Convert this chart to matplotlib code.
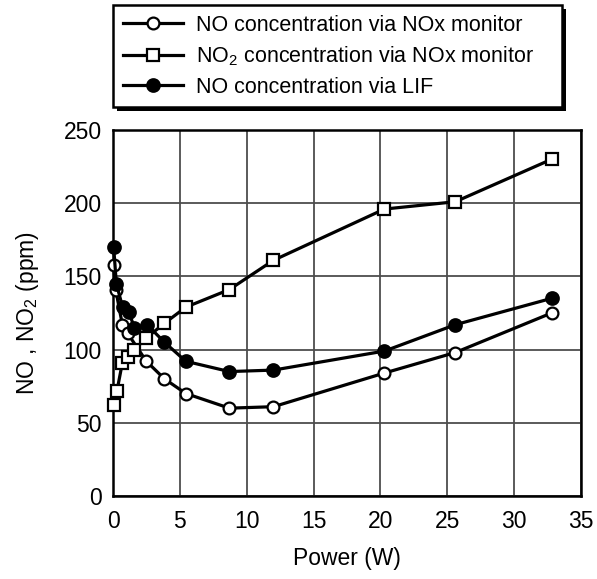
import matplotlib

matplotlib.use("Agg", force=True)
import matplotlib.pyplot as plt
from matplotlib.patches import Rectangle

plt.rcParams["font.family"] = ["Liberation Sans", "DejaVu Sans"]
plt.rcParams["mathtext.fontset"] = "custom"
plt.rcParams["mathtext.rm"] = "Liberation Sans"

# values
x_no_mon = [0.05, 0.2, 0.7, 1.1, 2.5, 3.85, 5.45, 8.7, 12.0, 20.3, 25.6, 32.8]
no_mon = [158, 141, 117, 111, 92, 80, 70, 60, 61, 84, 98, 125]

x_no2 = [0.1, 0.3, 0.7, 1.1, 1.6, 2.5, 3.85, 5.45, 8.7, 12.0, 20.3, 25.6, 32.8]
no2_mon = [62, 72, 91, 95, 100, 108, 118, 129, 141, 161, 196, 201, 230]

x_lif = [0.05, 0.25, 0.72, 1.17, 1.6, 2.55, 3.85, 5.45, 8.7, 12.0, 20.3, 25.6, 32.8]
no_lif = [170, 145, 129, 126, 115, 117, 105, 92, 85, 86, 99, 117, 135]

labels = [
    "NO concentration via NOx monitor",
    r"NO$_\mathregular{2}$ concentration via NOx monitor",
    "NO concentration via LIF",
]
x_ticks = [0, 5, 10, 15, 20, 25, 30, 35]
y_ticks = [0, 50, 100, 150, 200, 250]

W, H = 597, 579
fig = plt.figure(figsize=(W / 100, H / 100), dpi=100)
ax = fig.add_axes([113 / W, 1 - 496 / H, (581 - 113) / W, (496 - 130) / H])

common = dict(color="black", linewidth=2.3, markeredgewidth=1.6, clip_on=False, zorder=3)
h1, = ax.plot(x_no_mon, no_mon, marker="o", markersize=8.5, markerfacecolor="white", **common)
h2, = ax.plot(x_no2, no2_mon, marker="s", markersize=8.5, markerfacecolor="white", **common)
h3, = ax.plot(x_lif, no_lif, marker="o", markersize=9, markerfacecolor="black", **common)

ax.set_xlim(0, 35)
ax.set_ylim(0, 250)
ax.set_xticks(x_ticks)
ax.set_yticks(y_ticks)
ax.grid(True, color="0.3", linewidth=1.3)
ax.set_axisbelow(True)
ax.tick_params(length=0, labelsize=16.5, pad=8)
ax.tick_params(axis="x", pad=10)
for sp in ax.spines.values():
    sp.set_linewidth(1.8)

ax.set_xlabel("Power (W)", fontsize=16.5, labelpad=10)
ax.set_ylabel(r"NO , NO$_\mathregular{2}$ (ppm)", fontsize=16.5, labelpad=16)

leg = fig.legend(
    [h1, h2, h3],
    labels,
    loc="upper left",
    bbox_to_anchor=(113 / W, 1 - 11 / H, (562 - 113) / W, 0.01),
    mode="expand",
    borderaxespad=0,
    fontsize=15.5,
    numpoints=1,
    handlelength=2.8,
    handletextpad=0.6,
    borderpad=0.45,
    labelspacing=0.4,
    fancybox=False,
    framealpha=1,
    edgecolor="black",
)
leg.get_frame().set_linewidth(1.8)

fig.canvas.draw()
bb = leg.get_window_extent().transformed(fig.transFigure.inverted())
off_x, off_y = 4 / W, 4 / H
fig.patches.append(
    Rectangle((bb.x0 + off_x, bb.y0 - off_y), bb.width, bb.height,
              transform=fig.transFigure, facecolor="black", edgecolor="none", zorder=0)
)
leg.set_zorder(5)

fig.savefig("out.png", dpi=100)
